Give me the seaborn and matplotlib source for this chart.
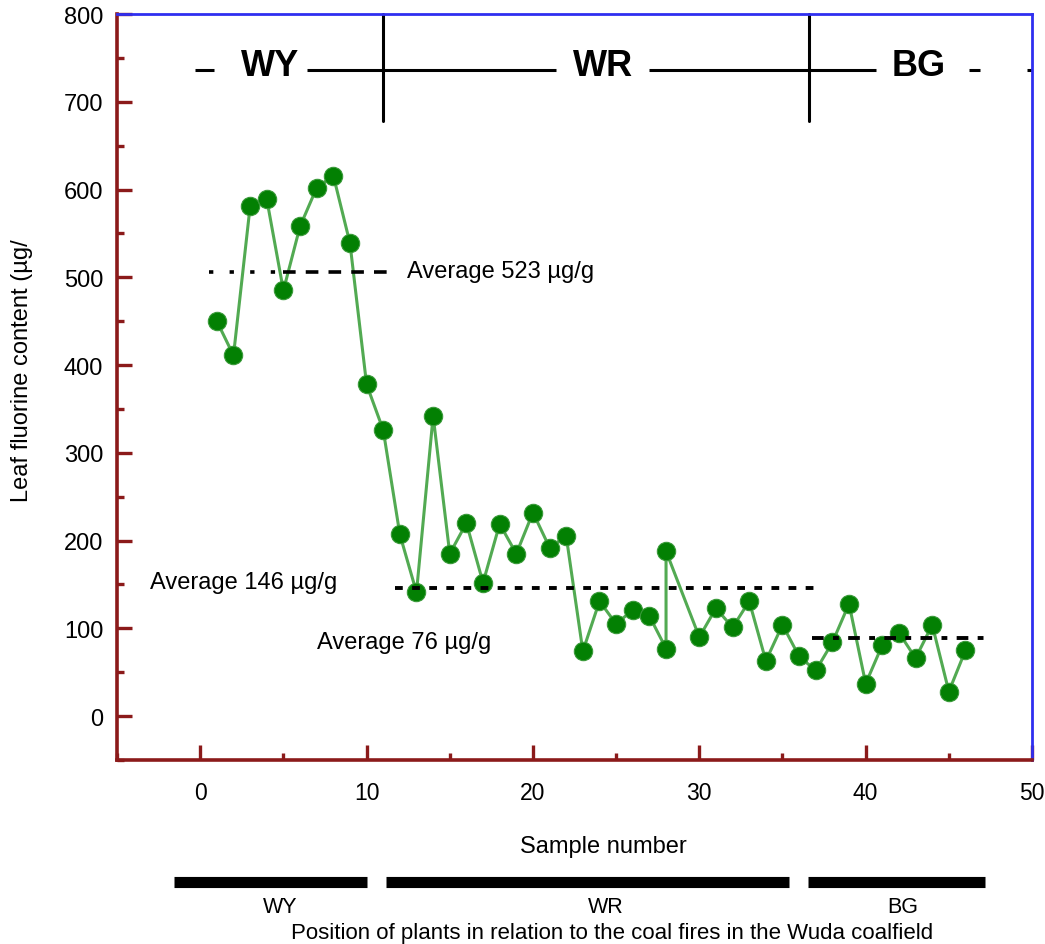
"""
Leaf fluorine content along the Wuda coalfield transect.

Line + markers per sample, with group averages and the WY / WR / BG zones.
"""

import matplotlib

matplotlib.use("Agg")
import matplotlib.pyplot as plt  # noqa: E402
import pandas as pd  # noqa: E402
import seaborn as sns  # noqa: E402
from matplotlib.ticker import MultipleLocator  # noqa: E402

# sample numbers (28 appears twice, there is no 29 on the chart)
sample_no = [1, 2, 3, 4, 5, 6, 7, 8, 9, 10,
             11, 12, 13, 14, 15, 16, 17, 18, 19, 20,
             21, 22, 23, 24, 25, 26, 27, 28, 28, 30,
             31, 32, 33, 34, 35, 36, 37, 38, 39, 40,
             41, 42, 43, 44, 45, 46]
fluorine = [450, 411, 581, 589, 485, 558, 602, 616, 539, 378,
            326, 207, 141, 342, 185, 220, 152, 219, 185, 232,
            192, 205, 74, 131, 105, 121, 114, 77, 188, 90,
            123, 101, 131, 63, 104, 68, 52, 84, 128, 37,
            81, 95, 66, 104, 28, 75]

# group averages: label, value drawn, x start, x end
avg_labels = ["Average 523 µg/g", "Average 146 µg/g", "Average 76 µg/g"]
avg_values = [506, 146, 88.5]
avg_start = [0.5, 11.7, 36.8]
avg_end = [11.2, 37.0, 47.3]

# zones of the transect
zones = ["WY", "WR", "BG"]
zone_start = [-1.56, 11.16, 36.55]
zone_end = [10.0, 35.4, 47.2]
zone_dividers = [11.0, 36.6]

RED = "#8b1a1a"
BLUE = "#2f2ff0"


def main():
    df = pd.DataFrame({"sample": sample_no, "fluorine": fluorine})

    sns.set_style("white")
    plt.rcParams["font.family"] = ["Liberation Sans", "DejaVu Sans"]
    plt.rcParams["text.color"] = "black"

    fig = plt.figure(figsize=(10.45, 9.45), dpi=100)
    ax = fig.add_axes([0.112, 0.1947, 0.8756, 0.7894])

    sns.lineplot(data=df, x="sample", y="fluorine", sort=False, estimator=None,
                 color="#52aa52", lw=2.2, ax=ax, zorder=2)
    sns.scatterplot(data=df, x="sample", y="fluorine", color="#038003",
                    edgecolor="#3a9a3a", linewidth=0.8, s=175, ax=ax, zorder=3)

    # average lines (dotted start, dashed tail for the first one)
    ax.plot([avg_start[0], 5.0], [avg_values[0]] * 2, color="black", lw=2.6,
            ls=(0, (1.2, 4.5)), zorder=4)
    ax.plot([5.0, avg_end[0]], [avg_values[0]] * 2, color="black", lw=2.6,
            ls=(0, (3.5, 2.8)), zorder=4)
    ax.plot([avg_start[1], avg_end[1]], [avg_values[1]] * 2, color="black", lw=2.8,
            ls=(0, (2.0, 2.4)), zorder=4)
    ax.plot([avg_start[2], avg_end[2]], [avg_values[2]] * 2, color="black", lw=2.8,
            ls=(0, (3.0, 2.4, 1.5, 2.4)), zorder=4)

    ax.text(12.44, 507, avg_labels[0], fontsize=17, va="center", ha="left")
    ax.text(-3.0, 153, avg_labels[1], fontsize=17, va="center", ha="left")
    ax.text(7.0, 84, avg_labels[2], fontsize=17, va="center", ha="left")

    # header: zone names on a broken line, with dividers
    header_y = 736
    for x0, x1 in [(-0.3, 0.8), (6.4, 21.4), (27.0, 40.6), (46.2, 46.9), (49.7, 50.0)]:
        ax.plot([x0, x1], [header_y, header_y], color="black", lw=2.2,
                solid_capstyle="butt", clip_on=False)
    for x in zone_dividers:
        ax.plot([x, x], [678, 800], color="black", lw=2.2, clip_on=False)
    for name, x in zip(zones, [4.2, 24.2, 43.2]):
        ax.text(x, 731, name, fontsize=26, fontweight="bold", ha="center",
                va="baseline")

    # bottom zone bars
    for name, x0, x1, lx in zip(zones, zone_start, zone_end, [4.8, 24.4, 42.2]):
        ax.plot([x0, x1], [-189, -189], color="black", lw=8,
                solid_capstyle="butt", clip_on=False)
        ax.text(lx, -217, name, fontsize=15.5, ha="center", va="center")

    ax.set_xlim(-5, 50)
    ax.set_ylim(-50, 800)
    ax.xaxis.set_major_locator(MultipleLocator(10))
    ax.xaxis.set_minor_locator(MultipleLocator(5))
    ax.yaxis.set_major_locator(MultipleLocator(100))
    ax.yaxis.set_minor_locator(MultipleLocator(50))
    ax.set_xticks(range(0, 51, 10))
    ax.set_yticks(range(0, 801, 100))
    ax.set_xlabel("")
    ax.set_ylabel("")

    ax.tick_params(which="both", direction="in", color=RED, width=2.4,
                   labelcolor="black")
    ax.tick_params(which="major", length=11)
    ax.tick_params(which="minor", length=5)
    ax.tick_params(axis="x", which="both", top=False, bottom=True, labelsize=16.5, pad=15)
    ax.tick_params(axis="y", which="both", left=True, right=False, labelsize=17, pad=10)

    for side in ["left", "bottom"]:
        ax.spines[side].set_color(RED)
        ax.spines[side].set_linewidth(2.6)
    for side in ["top", "right"]:
        ax.spines[side].set_color(BLUE)
        ax.spines[side].set_linewidth(2.0)

    fig.text(22 / 1045, 1 - 371 / 945, "Leaf fluorine content (µg/", rotation=90,
             fontsize=17, ha="center", va="center")
    fig.text(603 / 1045, 1 - 847 / 945, "Sample number", fontsize=17,
             ha="center", va="center")
    fig.text(612 / 1045, 1 - 934 / 945,
             "Position of plants in relation to the coal fires in the Wuda coalfield",
             fontsize=16, ha="center", va="center")

    fig.savefig("out.png", dpi=100)
    plt.close(fig)


if __name__ == "__main__":
    main()
